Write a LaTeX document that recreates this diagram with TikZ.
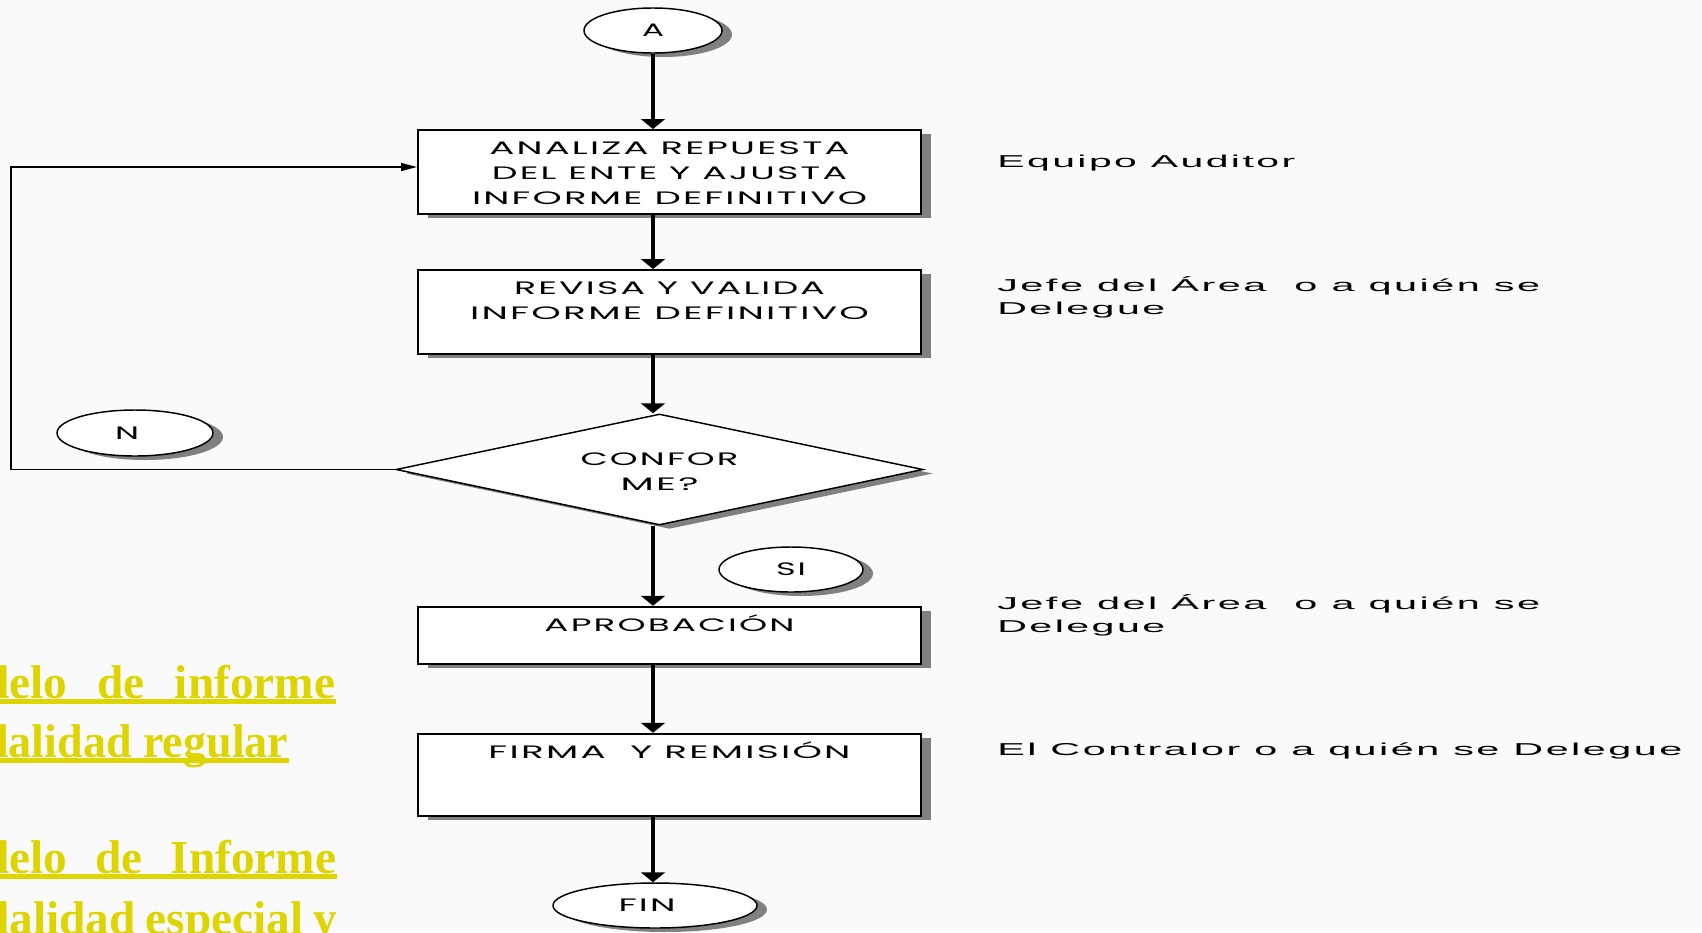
\documentclass[tikz,border=0pt]{standalone}
\usepackage{fontspec}
\usepackage{graphicx}
\usetikzlibrary{shapes.geometric,shadows,arrows.meta,calc}
\newfontfamily\bxf[LetterSpace=6]{Poppins}
\newfontfamily\rtf[LetterSpace=6]{Liberation Sans}
\newfontfamily\ylf{Liberation Serif}
\newlength\pxu
\setlength\pxu{0.75pt}
\definecolor{bgc}{RGB}{250,250,250}
\definecolor{ylc}{RGB}{222,212,0}
\definecolor{shc}{RGB}{128,128,128}
\newcommand{\bline}[2]{\hbox to 420\pxu{\hss\resizebox{#1\pxu}{\height}{#2}\hss}}
\newcommand{\rline}[2]{\hbox{\resizebox{#1\pxu}{\height}{#2}}}
\newcommand{\sxw}[2]{\resizebox{#1\pxu}{\height}{#2}}
\tikzset{
  shd/.style={drop shadow={shadow xshift=10\pxu, shadow yshift=-4\pxu, fill=shc, opacity=1}},
  procbox/.style={draw=black, line width=1.5pt, fill=white, shd, inner sep=0pt,
    minimum width=503\pxu, text height=0pt, font=\bxf\fontsize{13.5}{18.75}\selectfont},
  term/.style={ellipse, draw=black, line width=1.1pt, fill=white, shd, inner sep=0pt,
    font=\bxf\fontsize{13.5}{18.75}\selectfont},
  decis/.style={diamond, draw=black, line width=1.1pt, fill=white, shd, inner sep=0pt,
    shape aspect=4.75, text height=0pt, font=\bxf\fontsize{13.5}{19.3}\selectfont},
  role/.style={anchor=base west, inner sep=0pt, font=\rtf\fontsize{12.9}{17.6}\selectfont},
  ytext/.style={anchor=base west, inner sep=0pt, text=ylc,
    font=\ylf\bfseries\fontsize{35.5}{40}\selectfont},
  arr/.style={line width=2.4pt, -{Triangle[width=18pt,length=7.5pt]}},
  backline/.style={line width=1.1pt, -{Triangle[width=6pt,length=12pt]}},
}
\begin{document}
\begin{tikzpicture}[x=0.75pt,y=-0.75pt]
\useasboundingbox (0,0) rectangle (1702,932);
\clip (0,0) rectangle (1702,932);
\fill[bgc] (0,0) rectangle (1702,932);

% yellow side text (cut by the left edge)
\node[ytext] (y1) at (-17,698) {\makebox[352\pxu][s]{delo de informe}};
\node[ytext] (y2) at (-17,757) {\sxw{305}{dalidad regular}};
\node[ytext] (y3) at (-17,873) {\makebox[353\pxu][s]{delo de Informe}};
\node[ytext] (y4) at (-17,934) {\makebox[354\pxu][s]{dalidad especial y}};
\foreach \t in {y1,y2,y3,y4}{
  \fill[ylc] ($(\t.base west)+(0,1)$) rectangle ($(\t.base east)+(0,6)$);
}

% flow
\node[term, minimum width=138\pxu, minimum height=45\pxu] (A) at (653,30.5) {\raisebox{-2\pxu}{\sxw{22}{A}}};
\node[procbox, minimum height=84\pxu, text depth=35\pxu] (b1) at (669.5,172)
  {\vtop{\bline{360}{ANALIZA REPUESTA}\bline{355}{DEL ENTE Y AJUSTA}\bline{395}{INFORME DEFINITIVO}}};
\node[procbox, minimum height=84\pxu, text depth=35\pxu] (b2) at (669.5,312)
  {\vtop{\bline{311}{REVISA Y VALIDA}\bline{399}{INFORME DEFINITIVO}}};
\node[decis, minimum width=527\pxu, minimum height=111\pxu, text depth=9\pxu] (dia) at (659.5,469.5)
  {\vtop{\bline{158}{CONFOR}\bline{78}{ME?}}};
\node[term, minimum width=156\pxu, minimum height=46\pxu] (N) at (135,433) {\hbox{\sxw{24}{N}\kern16\pxu}};
\node[term, minimum width=144\pxu, minimum height=45\pxu] (SI) at (791,569.5) {\sxw{30}{SI}};
\node[procbox, minimum height=57.5\pxu, text depth=8.5\pxu] (b3) at (669.5,635.5)
  {\vtop{\bline{250}{APROBACIÓN}}};
\node[procbox, minimum height=82.5\pxu, text depth=33.5\pxu] (b4) at (669.5,775)
  {\vtop{\bline{362}{FIRMA\ \ Y REMISIÓN}}};
\node[term, minimum width=204\pxu, minimum height=45\pxu] (FIN) at (655,905.5) {\hbox{\sxw{57}{FIN}\kern16\pxu}};

\draw[arr] (A.south) -- (A.south |- b1.north);
\draw[arr] (b1.south -| A.south) -- (b2.north -| A.south);
\draw[arr] (b2.south -| A.south) -- (dia.north -| A.south);
\draw[arr] (dia.south -| A.south) -- (b3.north -| A.south);
\draw[arr] (b3.south -| A.south) -- (b4.north -| A.south);
\draw[arr] (b4.south -| A.south) -- (FIN.north -| A.south);

\coordinate (lc) at (11,167);
\draw[backline] (dia.west) -| (lc) -- (lc -| b1.west);

% roles
\node[role] (r1) at (997,167) {\rline{298}{Equipo Auditor}};
\node[role] (r2) at (997,291) {\vtop{\baselineskip=23.5\pxu
  \rline{543}{Jefe del Área\ \ o a quién se}\rline{168}{Delegue}}};
\node[role] (r3) at (997,609) {\vtop{\baselineskip=23.5\pxu
  \rline{543}{Jefe del Área\ \ o a quién se}\rline{168}{Delegue}}};
\node[role] (r4) at (997,755) {\rline{685}{El Contralor o a quién se Delegue}};
\end{tikzpicture}
\end{document}
